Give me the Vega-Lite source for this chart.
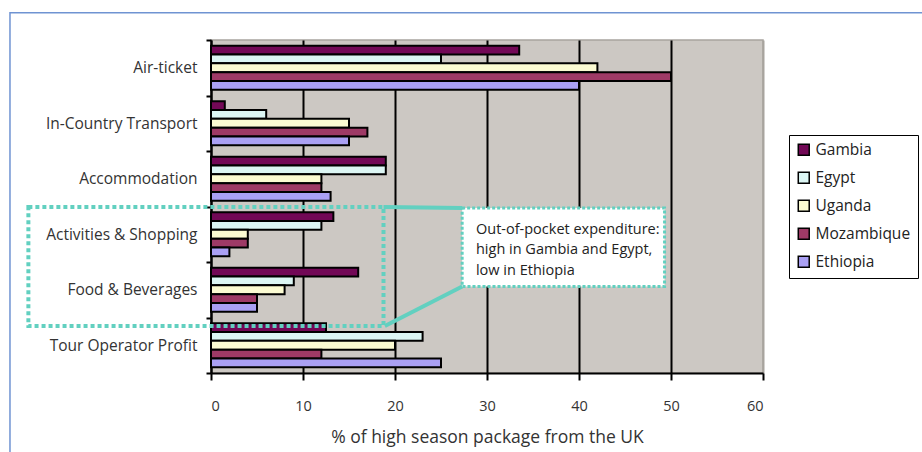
{
  "$schema": "https://vega.github.io/schema/vega-lite/v6.json",
  "autosize": "none",
  "padding": {"left": 211, "top": 40, "right": 159, "bottom": 79},
  "width": 552,
  "height": 333,
  "background": "white",
  "config": {
    "font": "Open Sans",
    "view": {"fill": "#ccc8c3", "stroke": "#a8a49e", "strokeWidth": 1.5},
    "axis": {"labelFont": "Open Sans", "titleFont": "Open Sans", "labelColor": "#333333", "titleColor": "#333333"}
  },
  "datasets": {
    "bars": [
      {"item": "Air-ticket", "country": "Gambia", "value": 33.5},
      {"item": "Air-ticket", "country": "Egypt", "value": 25},
      {"item": "Air-ticket", "country": "Uganda", "value": 42},
      {"item": "Air-ticket", "country": "Mozambique", "value": 50},
      {"item": "Air-ticket", "country": "Ethiopia", "value": 40},
      {"item": "In-Country Transport", "country": "Gambia", "value": 1.5},
      {"item": "In-Country Transport", "country": "Egypt", "value": 6},
      {"item": "In-Country Transport", "country": "Uganda", "value": 15},
      {"item": "In-Country Transport", "country": "Mozambique", "value": 17},
      {"item": "In-Country Transport", "country": "Ethiopia", "value": 15},
      {"item": "Accommodation", "country": "Gambia", "value": 19},
      {"item": "Accommodation", "country": "Egypt", "value": 19},
      {"item": "Accommodation", "country": "Uganda", "value": 12},
      {"item": "Accommodation", "country": "Mozambique", "value": 12},
      {"item": "Accommodation", "country": "Ethiopia", "value": 13},
      {"item": "Activities & Shopping", "country": "Gambia", "value": 13.3},
      {"item": "Activities & Shopping", "country": "Egypt", "value": 12},
      {"item": "Activities & Shopping", "country": "Uganda", "value": 4},
      {"item": "Activities & Shopping", "country": "Mozambique", "value": 4},
      {"item": "Activities & Shopping", "country": "Ethiopia", "value": 2},
      {"item": "Food & Beverages", "country": "Gambia", "value": 16},
      {"item": "Food & Beverages", "country": "Egypt", "value": 9},
      {"item": "Food & Beverages", "country": "Uganda", "value": 8},
      {"item": "Food & Beverages", "country": "Mozambique", "value": 5},
      {"item": "Food & Beverages", "country": "Ethiopia", "value": 5},
      {"item": "Tour Operator Profit", "country": "Gambia", "value": 12.5},
      {"item": "Tour Operator Profit", "country": "Egypt", "value": 23},
      {"item": "Tour Operator Profit", "country": "Uganda", "value": 20},
      {"item": "Tour Operator Profit", "country": "Mozambique", "value": 12},
      {"item": "Tour Operator Profit", "country": "Ethiopia", "value": 25}
    ],
    "note": [
      {"text": "Out-of-pocket expenditure:\nhigh in Gambia and Egypt,\nlow in Ethiopia"}
    ]
  },
  "layer": [
    {
      "data": {"name": "note"},
      "mark": {"type": "rect", "fill": null, "stroke": "#6f93d2", "strokeWidth": 1.5, "clip": false},
      "encoding": {
        "x": {"datum": -21.85, "type": "quantitative", "scale": {"domain": [0, 60], "nice": false, "zero": false}},
        "x2": {"datum": 79},
        "y": {"datum": 6.49, "type": "quantitative", "scale": {"domain": [0, 6], "nice": false, "zero": false}, "axis": null},
        "y2": {"datum": -1.7}
      }
    },
    {
      "data": {"name": "bars"},
      "mark": {"type": "bar", "stroke": "black", "strokeWidth": 2},
      "encoding": {
        "y": {
          "field": "item", "type": "nominal",
          "sort": ["Air-ticket", "In-Country Transport", "Accommodation", "Activities & Shopping", "Food & Beverages", "Tour Operator Profit"],
          "scale": {"paddingInner": 0, "paddingOuter": 0},
          "axis": {"title": null, "labelFontSize": 15.5, "labelPadding": 9, "tickBand": "extent", "tickSize": 5, "tickColor": "black", "tickWidth": 2, "domainColor": "black", "domainWidth": 2, "grid": false}
        },
        "yOffset": {
          "field": "country", "type": "nominal",
          "sort": ["Gambia", "Egypt", "Uganda", "Mozambique", "Ethiopia"],
          "scale": {"paddingInner": 0, "paddingOuter": 0.65}
        },
        "x": {
          "field": "value", "type": "quantitative",
          "scale": {"domain": [0, 60], "nice": false, "zero": false},
          "axis": {
            "title": "% of high season package from the UK",
            "values": [0, 10, 20, 30, 40, 50, 60],
            "labelFontSize": 14.5, "titleFontSize": 17.5, "titleFontWeight": "normal",
            "labelPadding": 19, "titlePadding": 16,
            "tickSize": 7, "tickColor": "black", "tickWidth": 2,
            "domainColor": "black", "domainWidth": 2,
            "grid": true, "gridWidth": 2,
            "gridColor": {"condition": {"test": "datum.value == 60", "value": "#a8a49e"}, "value": "black"}
          }
        },
        "color": {
          "field": "country", "type": "nominal",
          "sort": ["Gambia", "Egypt", "Uganda", "Mozambique", "Ethiopia"],
          "scale": {"domain": ["Gambia", "Egypt", "Uganda", "Mozambique", "Ethiopia"], "range": ["#720856", "#dcf6f4", "#fbfbd2", "#9e3a66", "#aaa0f4"]},
          "legend": {
            "title": null, "orient": "none", "legendX": 578, "legendY": 95,
            "strokeColor": "black", "fillColor": "white",
            "padding": 7, "symbolType": "square", "symbolSize": 120,
            "symbolStrokeColor": "black", "symbolStrokeWidth": 1.5,
            "labelFontSize": 15.5, "labelFont": "Open Sans", "labelColor": "#222222",
            "rowPadding": 10, "labelOffset": 4
          }
        }
      }
    },
    {
      "data": {"name": "note"},
      "mark": {"type": "rect", "fill": null, "stroke": "#62d0c0", "strokeWidth": 4, "strokeDash": [4, 3], "clip": false},
      "encoding": {
        "x": {"datum": -19.85, "type": "quantitative", "scale": {"domain": [0, 60], "nice": false, "zero": false}},
        "x2": {"datum": 18.75},
        "y": {"datum": 2.99, "type": "quantitative", "scale": {"domain": [0, 6], "nice": false, "zero": false}, "axis": null},
        "y2": {"datum": 0.847}
      }
    },
    {
      "data": {"name": "note"},
      "mark": {"type": "rule", "stroke": "#62d0c0", "strokeWidth": 4},
      "encoding": {
        "x": {"datum": 18.75, "type": "quantitative", "scale": {"domain": [0, 60], "nice": false, "zero": false}},
        "x2": {"datum": 27.3},
        "y": {"datum": 2.99, "type": "quantitative", "scale": {"domain": [0, 6], "nice": false, "zero": false}, "axis": null},
        "y2": {"datum": 2.975}
      }
    },
    {
      "data": {"name": "note"},
      "mark": {"type": "rule", "stroke": "#62d0c0", "strokeWidth": 4},
      "encoding": {
        "x": {"datum": 18.9, "type": "quantitative", "scale": {"domain": [0, 60], "nice": false, "zero": false}},
        "x2": {"datum": 27.3},
        "y": {"datum": 0.847, "type": "quantitative", "scale": {"domain": [0, 6], "nice": false, "zero": false}, "axis": null},
        "y2": {"datum": 1.56}
      }
    },
    {
      "data": {"name": "note"},
      "mark": {"type": "rect", "fill": "white", "stroke": "#62d0c0", "strokeWidth": 3, "strokeDash": [3, 2]},
      "encoding": {
        "x": {"datum": 27.3, "type": "quantitative", "scale": {"domain": [0, 60], "nice": false, "zero": false}},
        "x2": {"datum": 49.3},
        "y": {"datum": 2.975, "type": "quantitative", "scale": {"domain": [0, 6], "nice": false, "zero": false}, "axis": null},
        "y2": {"datum": 1.56}
      }
    },
    {
      "data": {"name": "note"},
      "mark": {"type": "text", "align": "left", "baseline": "middle", "fontSize": 14.5, "lineHeight": 20.5, "color": "#222222", "font": "Open Sans", "lineBreak": "\n"},
      "encoding": {
        "text": {"field": "text"},
        "x": {"datum": 28.8, "type": "quantitative", "scale": {"domain": [0, 60], "nice": false, "zero": false}},
        "y": {"datum": 2.577, "type": "quantitative", "scale": {"domain": [0, 6], "nice": false, "zero": false}, "axis": null}
      }
    }
  ],
  "resolve": {"scale": {"y": "independent"}, "axis": {"y": "independent"}}
}
